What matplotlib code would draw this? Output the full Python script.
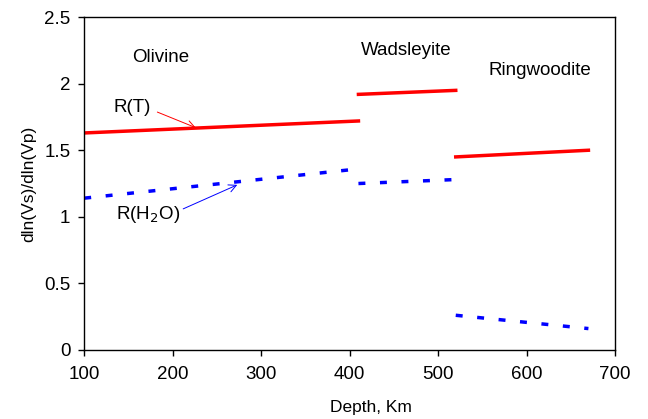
import matplotlib
matplotlib.use("Agg")
import matplotlib.pyplot as plt

plt.rcParams['font.family'] = ['Liberation Sans', 'DejaVu Sans']

# Depth segments (km) and ratio values for each phase
olivine_depth = [100, 410]
wads_depth = [410, 520]
ring_depth = [520, 670]

r_t_olivine = [1.63, 1.72]
r_t_wads = [1.92, 1.95]
r_t_ring = [1.45, 1.50]

r_h2o_olivine = [1.14, 1.36]
r_h2o_wads = [1.25, 1.28]
r_h2o_ring = [0.26, 0.16]

fig = plt.figure(figsize=(6.48, 4.19), dpi=100)
ax = fig.add_axes([0.13, 0.165, 0.819, 0.794])

for d, v in [(olivine_depth, r_t_olivine), (wads_depth, r_t_wads), (ring_depth, r_t_ring)]:
    ax.plot(d, v, color='#ff0000', lw=2.5)
for d, v in [(olivine_depth, r_h2o_olivine), (wads_depth, r_h2o_wads), (ring_depth, r_h2o_ring)]:
    ax.plot(d, v, color='#0000ff', lw=2.5, dashes=(2, 4.2))

ax.set_xlim(100, 700)
ax.set_ylim(0, 2.5)
ax.set_xticks(range(100, 701, 100))
ax.set_yticks([0, 0.5, 1, 1.5, 2, 2.5])
ax.set_yticklabels(['0', '0.5', '1', '1.5', '2', '2.5'])
ax.tick_params(direction='out', labelsize=13.5, length=4.5, width=1)
ax.tick_params(axis='x', pad=7)
ax.tick_params(axis='y', pad=5.5)
for s in ax.spines.values():
    s.set_linewidth(1)
ax.set_xlabel('Depth, Km', fontsize=12.5, labelpad=12, x=0.54)
ax.set_ylabel('dln(Vs)/dln(Vp)', fontsize=12.5, labelpad=6)

ax.text(186, 2.2, 'Olivine', fontsize=13.5, ha='center', va='center')
ax.text(464, 2.25, 'Wadsleyite', fontsize=13.5, ha='center', va='center')
ax.text(615, 2.1, 'Ringwoodite', fontsize=13.5, ha='center', va='center')

ax.annotate('R(T)', xy=(226, 1.67), xytext=(154, 1.82), fontsize=13.5,
            ha='center', va='center',
            arrowprops=dict(arrowstyle='->', color='#ff0000', lw=0.7,
                            shrinkA=3, shrinkB=0, relpos=(1.0, 0.4)))
ax.annotate('R(H$_2$O)', xy=(273, 1.24), xytext=(172, 1.02), fontsize=13.5,
            ha='center', va='center',
            arrowprops=dict(arrowstyle='->', color='#0000ff', lw=0.7,
                            shrinkA=0, shrinkB=0, relpos=(1.05, 0.75)))

fig.savefig('out.png', dpi=100)
